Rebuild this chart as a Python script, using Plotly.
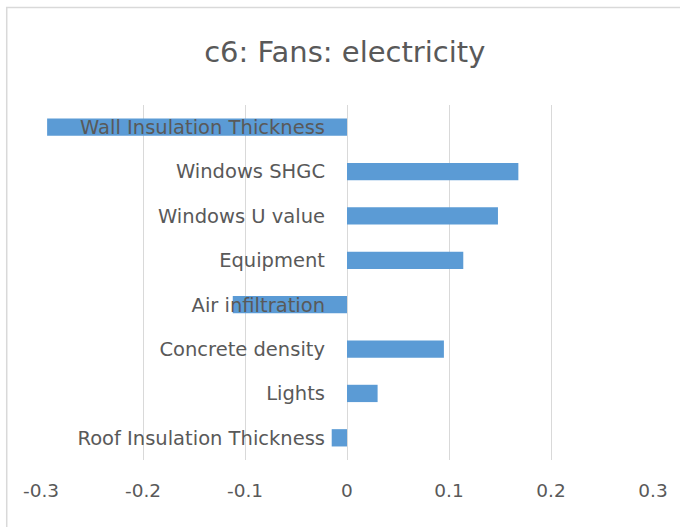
import plotly.graph_objects as go

# Sensitivity of fan electricity to each design parameter
categories = [
    "Wall Insulation Thickness",
    "Windows SHGC",
    "Windows U value",
    "Equipment",
    "Air infiltration",
    "Concrete density",
    "Lights",
    "Roof Insulation Thickness",
]
values = [-0.294, 0.168, 0.148, 0.114, -0.112, 0.095, 0.030, -0.015]

x_tick_values = [-0.3, -0.2, -0.1, 0, 0.1, 0.2, 0.3]
x_tick_labels = ["-0.3", "-0.2", "-0.1", "0", "0.1", "0.2", "0.3"]

TEXT = "#595959"
GRID = "#d9d9d9"
FONT = "DejaVu Sans"

fig = go.Figure(
    go.Bar(
        x=values,
        y=categories,
        orientation="h",
        marker=dict(color="#5b9bd5", line=dict(width=0)),
    )
)

fig.update_layout(
    width=680,
    height=527,
    margin=dict(l=41, r=24, t=105, b=67),
    paper_bgcolor="white",
    plot_bgcolor="white",
    bargap=0.61,
    showlegend=False,
    title=dict(
        text="c6: Fans: electricity",
        font=dict(family=FONT, size=29, color=TEXT),
        xref="container",
        x=0.507,
        xanchor="center",
        yref="container",
        y=0.901,
        yanchor="middle",
    ),
    xaxis=dict(
        range=[-0.3, 0.3],
        tickvals=x_tick_values,
        ticktext=x_tick_labels,
        showgrid=True,
        gridcolor=GRID,
        gridwidth=1,
        zeroline=True,
        zerolinecolor=GRID,
        zerolinewidth=1,
        showline=False,
        ticks="",
        ticklabelstandoff=17,
        tickfont=dict(family=FONT, size=18.5, color=TEXT),
        fixedrange=True,
    ),
    yaxis=dict(
        autorange="reversed",
        anchor="free",
        position=0.5,
        side="left",
        showgrid=False,
        zeroline=False,
        showline=False,
        ticks="",
        ticklabelstandoff=22,
        tickfont=dict(family=FONT, size=19.5, color=TEXT),
        fixedrange=True,
    ),
    shapes=[
        # light chart-area border running off the right and bottom edges
        dict(
            type="rect",
            xref="paper",
            yref="paper",
            x0=-0.056,
            x1=1.3,
            y0=-0.5,
            y1=1.275,
            line=dict(color=GRID, width=1.5),
            fillcolor="rgba(0,0,0,0)",
            layer="below",
        )
    ],
)

fig.write_html("out.html")
